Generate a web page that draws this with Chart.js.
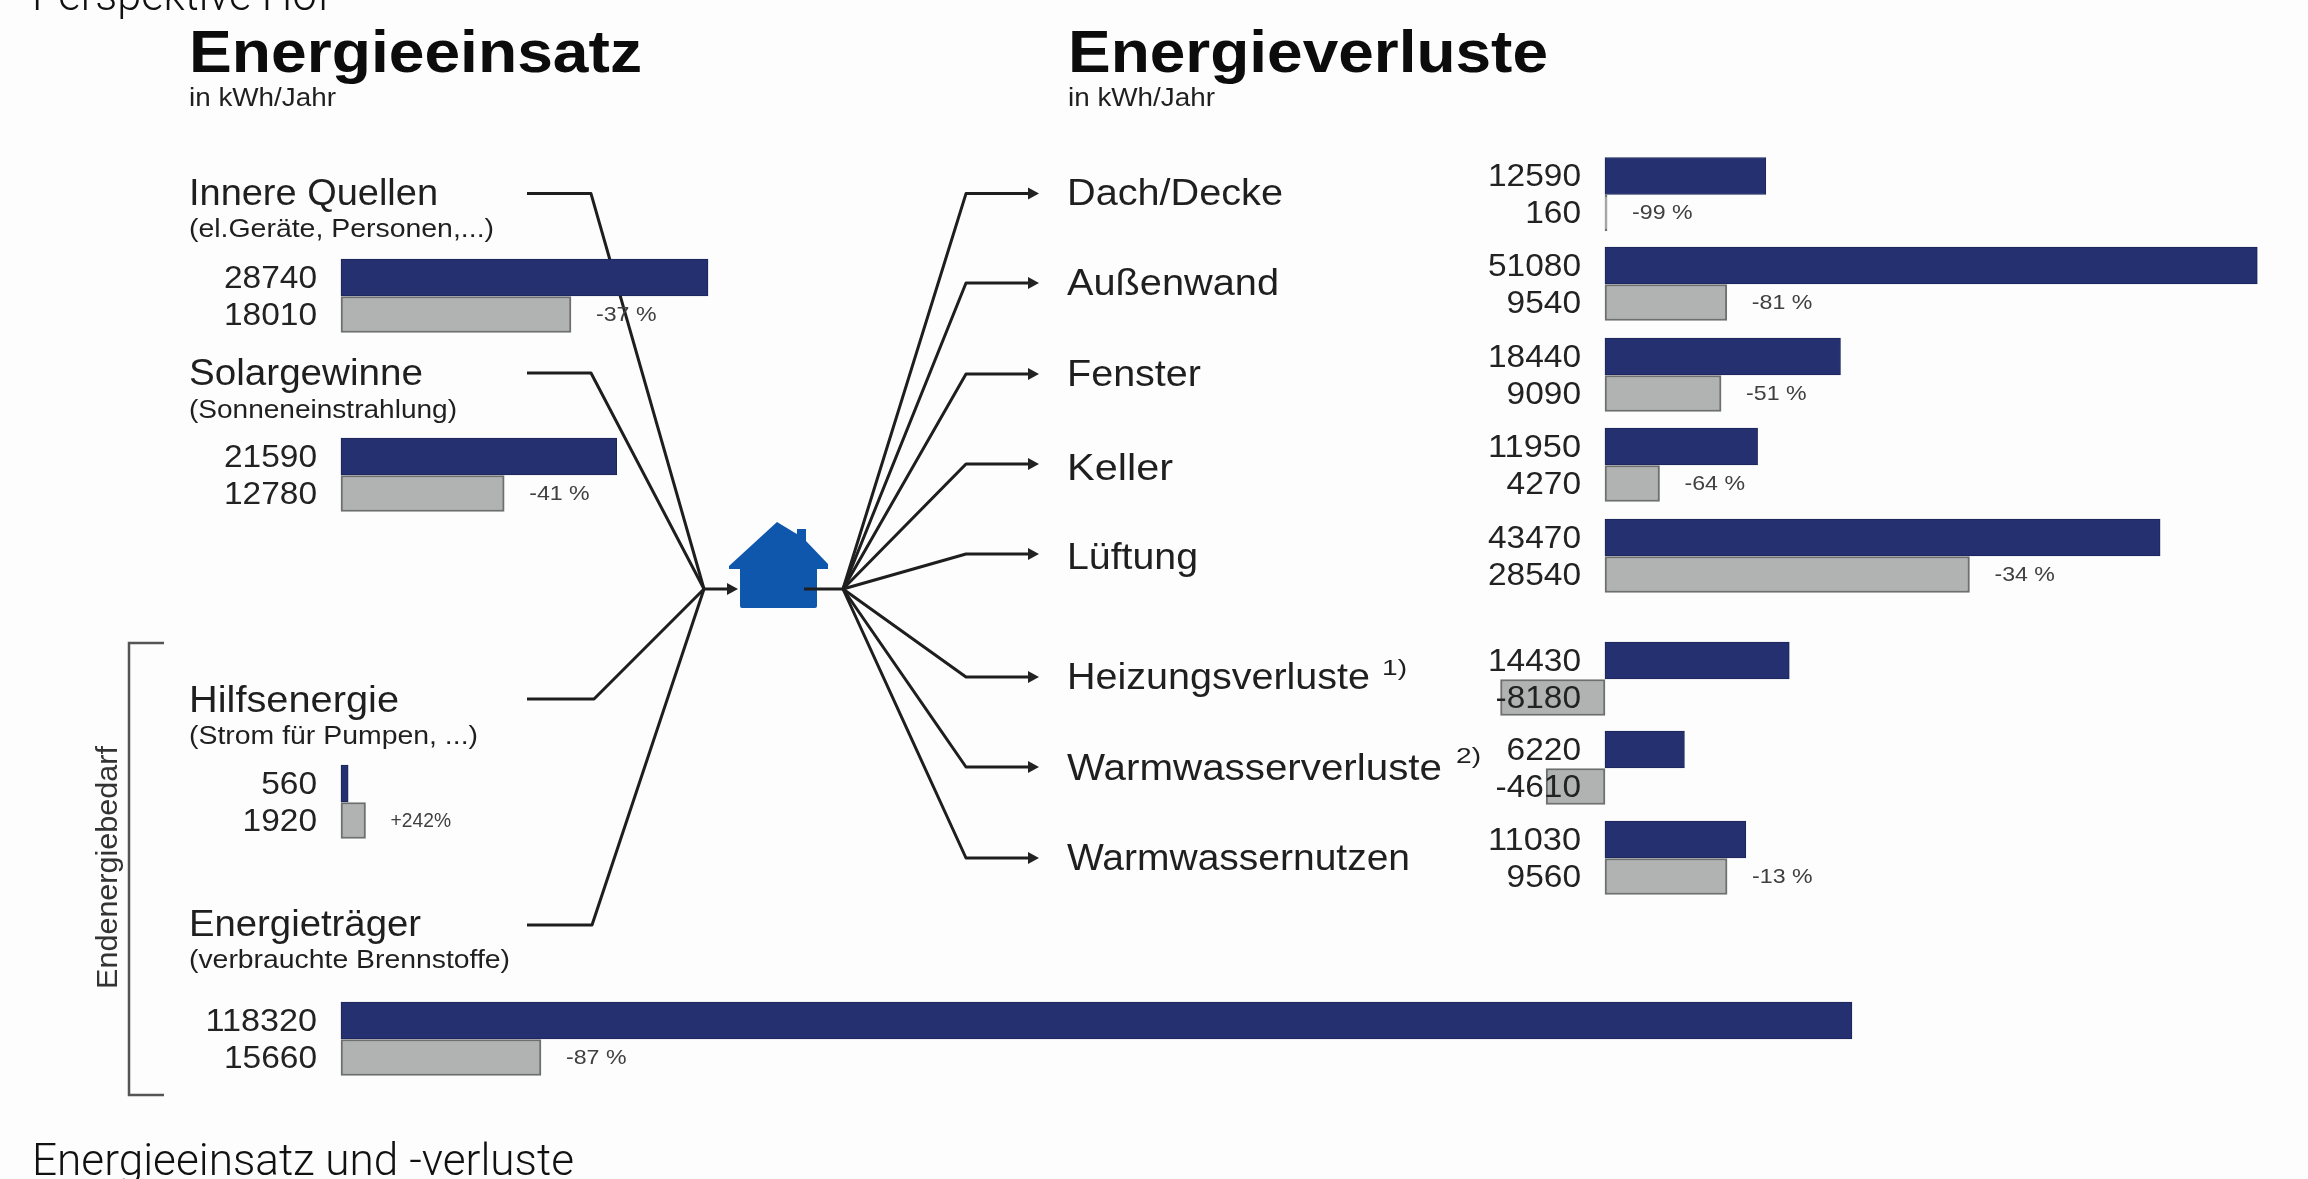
<!DOCTYPE html>
<html lang="de"><head><meta charset="utf-8">
<title>Energieeinsatz und -verluste</title>
<style>
html,body{margin:0;padding:0;background:#fdfdfd;width:2308px;height:1179px;overflow:hidden}
svg,.cv{position:absolute;left:0;top:0}
.cv{width:2308px;height:1179px}
</style>
<script src="https://cdn.jsdelivr.net/npm/chart.js@4"></script>
</head><body>
<svg id="ov" width="2308" height="1179" viewBox="0 0 2308 1179" xmlns="http://www.w3.org/2000/svg"></svg>
<div class="cv"><canvas id="left"></canvas></div>
<div class="cv"><canvas id="right"></canvas></div>
<script>
// ---- data (kWh/Jahr) ----
const inputCategories = ['Innere Quellen','Solargewinne','Hilfsenergie','Energieträger'];
const inputNotes = ['(el.Geräte, Personen,...)','(Sonneneinstrahlung)','(Strom für Pumpen, ...)','(verbrauchte Brennstoffe)'];
const inputBefore = [28740,21590,560,118320];
const inputAfter = [18010,12780,1920,15660];
const inputChange = ['-37 %','-41 %','+242%','-87 %'];
const lossCategories = ['Dach/Decke','Außenwand','Fenster','Keller','Lüftung','Heizungsverluste','Warmwasserverluste','Warmwassernutzen'];
const lossBefore = [12590,51080,18440,11950,43470,14430,6220,11030];
const lossAfter = [160,9540,9090,4270,28540,-8180,-4610,9560];
const lossChange = ['-99 %','-81 %','-51 %','-64 %','-34 %',null,null,'-13 %'];

// ---- layout (page pixels) ----
const W=2308,H=1179,PX_PER_KWH=0.01277,BAR=37;
const inputRowMid=[296,475,802,1039], inputZero=341;
const lossRowMid=[194.5,284,375,465,556,679,768,858], lossZero=1605;
const inputLayout=[[205,249,193.6,237,305,591],[385,234,373,418,268,591],[712,210,699,744,289,594],[936,232,925,968,321,592]];
const lossLayout=[[205,216,193.6],[295,212,283],[386,134,374],[480,106,464],[569,131,554],[689,303,677],[780,375,767],[870,343,858]];
const INK='#1f1f1f';

const NS='http://www.w3.org/2000/svg', ov=document.getElementById('ov');
function el(n,a,p){const e=document.createElementNS(NS,n);for(const k in a)e.setAttribute(k,a[k]);(p||ov).appendChild(e);return e;}
const soft=el('g',{style:'filter:blur(0.6px)'});
function txt(s,x,y,size,len,o={}){
  const a={x,y,'font-family':o.family||'Liberation Sans','font-size':size,fill:o.fill||INK,'font-weight':o.weight||400};
  if(len){a.textLength=len;a.lengthAdjust='spacingAndGlyphs';}
  if(o.transform)a.transform=o.transform;
  const e=el('text',a,o.parent||soft);e.textContent=s;return e;
}
txt('Energieeinsatz',189,72,60,453,{weight:700,fill:'#0c0c0c'});
txt('in kWh/Jahr',189,106,26,147);
txt('Energieverluste',1068,72,60,480,{weight:700,fill:'#0c0c0c'});
txt('in kWh/Jahr',1068,106,26,147);
inputCategories.forEach((c,i)=>{const l=inputLayout[i];
  txt(c,189,l[0],36,l[1]);txt(inputNotes[i],189,l[3],26,l[4]);});
lossCategories.forEach((c,i)=>{const l=lossLayout[i];txt(c,1067,l[0],36,l[1]);});
txt('1)',1382,675,22,25);
txt('2)',1456,763,22,25);
txt('Endenergiebedarf',116.5,989,30,243,{transform:'rotate(-90 116.5 989)',fill:'#333'});
// bracket
el('path',{d:'M164 643H129V1095H164',fill:'none',stroke:'#555','stroke-width':2.5},soft);
// leaders
const lead={fill:'none',stroke:'#1e1e1e','stroke-width':3,'stroke-linejoin':'round'};
inputLayout.forEach(l=>el('path',{d:`M527 ${l[2]}H${l[5]}L704 589`,...lead},soft));
el('path',{d:'M704 589H730',...lead},soft);
el('path',{d:'M727 583L738 589L727 595Z',fill:'#222'},soft);
// house
el('path',{d:'M777 522L797 534V529H806V541L828 564V569H817V606Q817 608 815 608H742Q740 608 740 606V569H729V566Z',fill:'#0f56ad'},soft);
el('path',{d:'M804 589H843',...lead},soft);
lossLayout.forEach(l=>{
  el('path',{d:`M843 589L966 ${l[2]}H1030`,...lead},soft);
  el('path',{d:`M1028 ${l[2]-6}L1039 ${l[2]}L1028 ${l[2]+6}Z`,fill:'#222'},soft);
});
// page captions
const cap={family:'Roboto',weight:300,fill:'#111'};
txt('Perspektive Hof',32,10,44,299,cap);
txt('Energieeinsatz und -verluste',32,1175,44,542,cap);

// ---- charts ----
const labelPlugin={id:'labels',afterDatasetsDraw(ch,_a,o){
  const c=ch.ctx,x=ch.scales.x,zero=x.getPixelForValue(0);
  c.save();c.filter='blur(0.5px)';c.textBaseline='alphabetic';
  const put=(s,px,py,size,len,col,align)=>{c.save();c.font=`${size}px "Liberation Sans"`;c.fillStyle=col;
    const w=c.measureText(s).width,k=len/w;c.translate(px,py);c.scale(k,1);c.textAlign=align;c.fillText(s,0,0);c.restore();};
  ch.data.datasets.forEach(ds=>{ds.data.forEach((d,i)=>{
    const s=String(d.x);
    put(s,zero-24,d.y+10,31,s.replace('-','').length*18.6+(d.x<0?11:0),'#222222','right');
  });});
  ch.data.datasets[1].data.forEach((d,i)=>{const t=o.change[i];if(!t)return;
    const end=x.getPixelForValue(Math.max(d.x,0));
    put(t,end+25,d.y+6,21,t.length*11.5+3,'#404040','left');});
  c.restore();
}};
Chart.register(labelPlugin);
function build(id,zero,cats,before,after,mid,change){
  const opts={responsive:false,animation:false,events:[],indexAxis:'y',
    layout:{padding:0},
    scales:{
      x:{type:'linear',display:false,min:-zero/PX_PER_KWH,max:(W-zero)/PX_PER_KWH},
      y:{type:'linear',display:false,reverse:true,offset:false,min:0,max:H}},
    plugins:{legend:{display:false},tooltip:{enabled:false},title:{display:false},labels:{change}}};
  const cv=document.getElementById(id);cv.width=W;cv.height=H;
  new Chart(cv,{type:'bar',data:{labels:cats,datasets:[
    {label:'vorher',data:before.map((v,i)=>({x:v,y:mid[i]-BAR/2})),backgroundColor:'#24306f',borderColor:'#1c2558',borderWidth:1,borderSkipped:false,barThickness:BAR,grouped:false},
    {label:'nachher',data:after.map((v,i)=>({x:v,y:mid[i]+BAR/2})),backgroundColor:'#b1b3b3',borderColor:'#6e7070',borderWidth:2,borderSkipped:false,barThickness:BAR-1,grouped:false}
  ]},options:opts});
}
build('left',inputZero,inputCategories,inputBefore,inputAfter,inputRowMid,inputChange);
build('right',lossZero,lossCategories,lossBefore,lossAfter,lossRowMid,lossChange);
</script>
</body></html>
